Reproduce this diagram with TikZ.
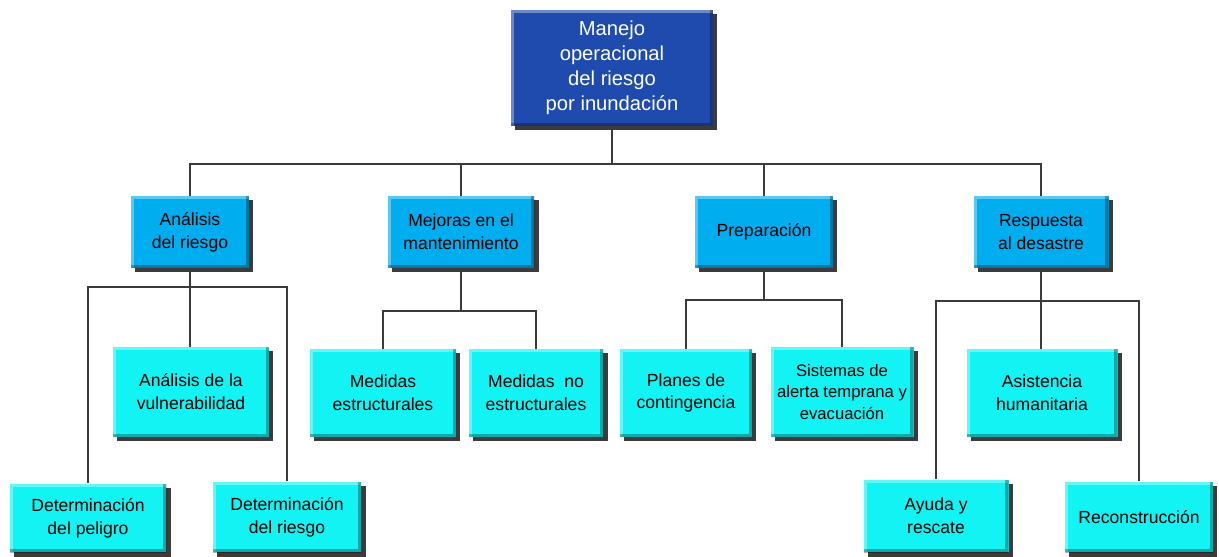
\documentclass[tikz,border=0pt]{standalone}
\usepackage{fontspec}
\setmainfont{Liberation Sans}
\usetikzlibrary{shadows}
\definecolor{topblue}{HTML}{1F4BAF}
\definecolor{areablue}{HTML}{00ADEF}
\definecolor{taskcyan}{HTML}{12F4F4}
\definecolor{linkgray}{HTML}{3A3A3A}

\tikzset{
  bevel/.style={path picture={
      \draw[line width=3.5pt,white,opacity=0.35]
        (path picture bounding box.south west) |- (path picture bounding box.north east);
      \draw[line width=3.5pt,black,opacity=0.3]
        (path picture bounding box.south west) -| (path picture bounding box.north east);}},
  box/.style={rectangle,inner sep=2pt,align=center,bevel,
      drop shadow={shadow xshift=2.5pt,shadow yshift=-2.5pt,fill=black!85,opacity=0.9}},
  link/.style={draw=linkgray,line width=0.8pt}
}

\begin{document}
\begin{tikzpicture}[x=0.02cm,y=-0.02cm,
  topbox/.style={box,fill=topblue,text=white,minimum width=4.04cm,minimum height=2.32cm,
      font=\fontsize{11.5}{14.2}\selectfont},
  areabox/.style={box,fill=areablue,minimum height=1.44cm,font=\fontsize{10}{13}\selectfont},
  taskbox/.style={box,fill=taskcyan,font=\fontsize{10}{13}\selectfont}]

  \useasboundingbox (0,0) rectangle (1219,557);

  % root
  \node[topbox] (manejo) at (612,68) {Manejo\\operacional\\del riesgo\\por inundación};

  % second level
  \node[areabox,minimum width=2.36cm] (analisis) at (190,232) {Análisis\\del riesgo};
  \node[areabox,minimum width=2.94cm] (mejoras) at (461,232) {Mejoras en el\\mantenimiento};
  \node[areabox,minimum width=2.76cm] (preparacion) at (764,232) {Preparación};
  \node[areabox,minimum width=2.70cm] (respuesta) at (1041,232) {Respuesta\\al desastre};

  % third level
  \node[taskbox,minimum width=3.12cm,minimum height=1.80cm] (vulnerab) at (191,392) {Análisis de la\\vulnerabilidad};
  \node[taskbox,minimum width=3.14cm,minimum height=1.38cm] (peligro) at (88,518) {Determinación\\del peligro};
  \node[taskbox,minimum width=2.98cm,minimum height=1.42cm] (detriesgo) at (287,517) {Determinación\\del riesgo};
  \node[taskbox,minimum width=2.92cm,minimum height=1.76cm] (estruc) at (383,393) {Medidas\\estructurales};
  \node[taskbox,minimum width=2.70cm,minimum height=1.76cm] (noestruc) at (536,393) {Medidas\ \ no\\estructurales};
  \node[taskbox,minimum width=2.64cm,minimum height=1.76cm] (planes) at (686,393) {Planes de\\contingencia};
  \node[taskbox,minimum width=2.86cm,minimum height=1.80cm,font=\fontsize{9.5}{12.5}\selectfont] (alerta) at (842,392) {Sistemas de\\alerta temprana y\\evacuación};
  \node[taskbox,minimum width=3.02cm,minimum height=1.76cm] (asistencia) at (1042,393) {Asistencia\\humanitaria};
  \node[taskbox,minimum width=2.90cm,minimum height=1.46cm] (ayuda) at (936,516) {Ayuda y\\rescate};
  \node[taskbox,minimum width=2.96cm,minimum height=1.42cm] (reconst) at (1139,517) {Reconstrucción};

  % buses
  \coordinate (bus0) at (612,164);
  \coordinate (bus1) at (190,287);
  \coordinate (bus2) at (461,311);
  \coordinate (bus3) at (764,300);
  \coordinate (bus4) at (1041,301);

  \draw[link] (manejo) -- (bus0);
  \draw[link] (analisis.north) |- (bus0) -| (respuesta.north);
  \draw[link] (mejoras.north) -- (mejoras.north |- bus0);
  \draw[link] (preparacion.north) -- (preparacion.north |- bus0);

  \draw[link] (analisis.south) -- (bus1);
  \draw[link] (peligro.north) |- (bus1) -| (detriesgo.north);
  \draw[link] (bus1) -- (bus1 |- vulnerab.north);

  \draw[link] (mejoras.south) -- (bus2);
  \draw[link] (estruc.north) |- (bus2) -| (noestruc.north);

  \draw[link] (preparacion.south) -- (bus3);
  \draw[link] (planes.north) |- (bus3) -| (alerta.north);

  \draw[link] (respuesta.south) -- (bus4);
  \draw[link] (ayuda.north) |- (bus4) -| (reconst.north);
  \draw[link] (bus4) -- (bus4 |- asistencia.north);
\end{tikzpicture}
\end{document}
